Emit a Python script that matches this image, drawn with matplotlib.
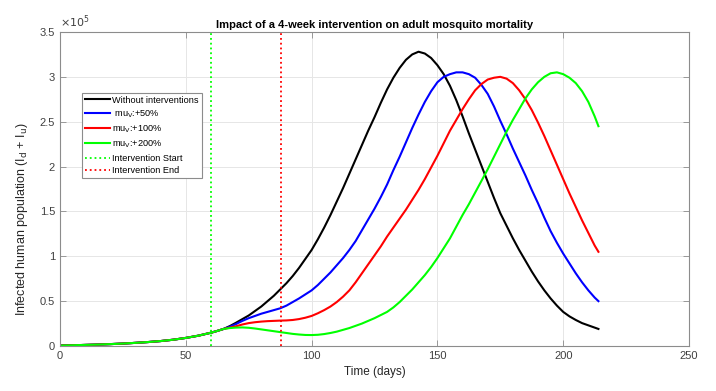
import numpy as np
import matplotlib
matplotlib.use("Agg")
import matplotlib.pyplot as plt
from matplotlib.ticker import FuncFormatter, MultipleLocator

plt.rcParams['font.family'] = ['Liberation Sans', 'DejaVu Sans']

# sampling grid (days): 5-day steps early, 2.5-day steps after day 60
days = np.concatenate([np.arange(0, 60, 5), np.arange(60, 213, 2.5), [214]])

# infected humans (units of 1e5), identical for all runs up to day 65
shared = [0.005, 0.008, 0.012, 0.016, 0.021, 0.027, 0.035, 0.044, 0.055, 0.07,
          0.09, 0.115, 0.148, 0.168, 0.19]

base = shared + [0.222, 0.26, 0.30, 0.34, 0.39, 0.44, 0.50, 0.56, 0.63, 0.70,
                 0.78, 0.87, 0.97, 1.07, 1.19, 1.32, 1.46, 1.61, 1.76, 1.92,
                 2.08, 2.24, 2.40, 2.55, 2.71, 2.86, 2.99, 3.10, 3.19, 3.25,
                 3.28, 3.26, 3.21, 3.13, 3.03, 2.90, 2.74, 2.56, 2.37, 2.19,
                 2.01, 1.83, 1.65, 1.48, 1.34, 1.20, 1.07, 0.95, 0.83, 0.72,
                 0.62, 0.53, 0.45, 0.38, 0.33, 0.29, 0.255, 0.23, 0.205, 0.19]
mu50 = shared + [0.215, 0.245, 0.28, 0.31, 0.335, 0.36, 0.38, 0.40, 0.42, 0.45,
                 0.49, 0.53, 0.575, 0.62, 0.68, 0.75, 0.82, 0.90, 0.98, 1.07,
                 1.17, 1.29, 1.41, 1.53, 1.66, 1.80, 1.96, 2.11, 2.27, 2.43,
                 2.58, 2.72, 2.84, 2.94, 3.00, 3.03, 3.05, 3.05, 3.03, 2.99,
                 2.91, 2.81, 2.67, 2.51, 2.36, 2.20, 2.05, 1.90, 1.74, 1.59,
                 1.43, 1.28, 1.15, 1.03, 0.92, 0.81, 0.71, 0.62, 0.54, 0.50]
mu100 = shared + [0.205, 0.22, 0.24, 0.255, 0.265, 0.272, 0.277, 0.28, 0.283, 0.285,
                  0.29, 0.30, 0.315, 0.335, 0.365, 0.40, 0.44, 0.49, 0.55, 0.62,
                  0.71, 0.81, 0.91, 1.01, 1.11, 1.22, 1.32, 1.42, 1.52, 1.63,
                  1.74, 1.86, 1.99, 2.12, 2.26, 2.40, 2.52, 2.64, 2.75, 2.85,
                  2.92, 2.97, 2.99, 3.00, 2.98, 2.93, 2.85, 2.75, 2.63, 2.49,
                  2.34, 2.18, 2.02, 1.86, 1.70, 1.55, 1.40, 1.26, 1.12, 1.05]
mu200 = shared + [0.20, 0.205, 0.207, 0.203, 0.195, 0.185, 0.175, 0.165, 0.155, 0.145,
                  0.135, 0.128, 0.123, 0.122, 0.125, 0.133, 0.145, 0.16, 0.18, 0.20,
                  0.225, 0.25, 0.28, 0.31, 0.345, 0.38, 0.43, 0.49, 0.56, 0.63,
                  0.71, 0.79, 0.88, 0.98, 1.09, 1.20, 1.33, 1.46, 1.58, 1.71,
                  1.84, 1.97, 2.11, 2.25, 2.39, 2.52, 2.64, 2.76, 2.86, 2.94,
                  3.00, 3.04, 3.05, 3.03, 2.99, 2.93, 2.84, 2.72, 2.56, 2.45]

labels = ['Without interventions', r' mu$_\mathrm{V}$:+50%',
          r'mu$_\mathrm{V}$:+100%', r'mu$_\mathrm{V}$:+200%']
colors = ['#000000', '#0000ff', '#ff0000', '#00ff00']
t_start, t_end = 60, 88
scale = 1e5

fig = plt.figure(figsize=(7.16, 3.91), dpi=100)
ax = fig.add_axes([0.0838, 0.1151, 0.8785, 0.8031])

for series, lab, col in zip([base, mu50, mu100, mu200], labels, colors):
    ax.plot(days, np.array(series) * scale, color=col, lw=1.5, label=lab)

ax.axvline(t_start, color='#00ff00', ls=':', lw=1.3, label='Intervention Start')
ax.axvline(t_end, color='#ff0000', ls=':', lw=1.3, label='Intervention End')

ax.set_xlim(0, 250)
ax.set_ylim(0, 3.5 * scale)
ax.xaxis.set_major_locator(MultipleLocator(50))
ax.yaxis.set_major_locator(MultipleLocator(0.5 * scale))
ax.yaxis.set_major_formatter(FuncFormatter(lambda v, p: '%g' % (v / scale)))
ax.text(0, 1.005, r'$\times10^5$', transform=ax.transAxes, fontsize=8,
        color='#404040', ha='left', va='bottom')

ax.grid(True, color='#e6e6e6', lw=0.7)
ax.set_axisbelow(True)
for s in ax.spines.values():
    s.set_color('#8c8c8c')
    s.set_linewidth(0.8)
ax.tick_params(direction='in', top=True, right=True, labelsize=8,
               colors='#8c8c8c', labelcolor='#404040', length=4, width=0.6)

ax.set_xlabel('Time (days)', fontsize=8.5, color='#262626')
ax.set_ylabel(r'Infected human population (I$_\mathrm{d}$ + I$_\mathrm{u}$)',
              fontsize=9, color='#262626')
ax.yaxis.set_label_coords(-0.048, 0.404)
ax.set_title('Impact of a 4-week intervention on adult mosquito mortality',
             fontsize=8, fontweight='bold', color='#000000', pad=3)

leg = ax.legend(loc='upper left', bbox_to_anchor=(0.035, 0.806), fontsize=6.6,
                fancybox=False, framealpha=1, edgecolor='#8c8c8c',
                handlelength=2.7, labelspacing=0.4, borderpad=0.3,
                handletextpad=0.3, borderaxespad=0)
leg.get_frame().set_linewidth(0.8)

fig.savefig('out.png', dpi=100)
